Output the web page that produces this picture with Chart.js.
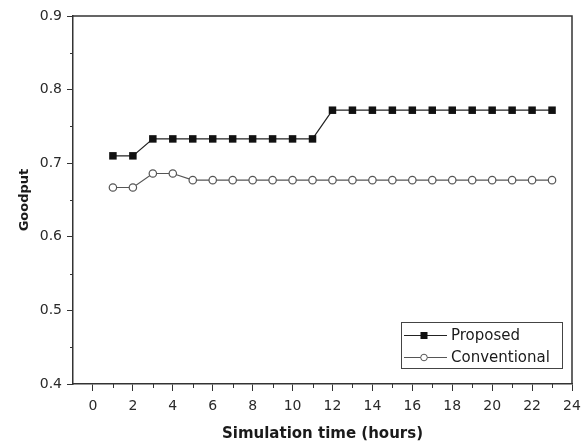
<!DOCTYPE html>
<html>
<head>
<meta charset="utf-8">
<script src="https://cdn.jsdelivr.net/npm/chart.js@4/dist/chart.umd.min.js"></script>
<style>
  html, body { margin: 0; padding: 0; background: #fff; }
</style>
</head>
<body>
<canvas id="chart" width="584" height="447"></canvas>
<script>
// data
const hours = [1, 2, 3, 4, 5, 6, 7, 8, 9, 10, 11, 12, 13, 14, 15, 16, 17, 18, 19, 20, 21, 22, 23];
const proposed = [0.710, 0.710, 0.733, 0.733, 0.733, 0.733, 0.733, 0.733, 0.733, 0.733, 0.733,
                  0.772, 0.772, 0.772, 0.772, 0.772, 0.772, 0.772, 0.772, 0.772, 0.772, 0.772, 0.772];
const conventional = [0.667, 0.667, 0.686, 0.686, 0.677, 0.677, 0.677, 0.677, 0.677, 0.677, 0.677,
                      0.677, 0.677, 0.677, 0.677, 0.677, 0.677, 0.677, 0.677, 0.677, 0.677, 0.677, 0.677];
const xTicks = [0, 2, 4, 6, 8, 10, 12, 14, 16, 18, 20, 22, 24];
const xMinorTicks = [1, 3, 5, 7, 9, 11, 13, 15, 17, 19, 21, 23];
const yTicks = [0.4, 0.5, 0.6, 0.7, 0.8, 0.9];
const yMinorTicks = [0.45, 0.55, 0.65, 0.75, 0.85];

const axisColor = '#333';
const textColor = '#2a2a2a';

// frame on top / right + minor ticks
const framePlugin = {
    id: 'frame',
    afterDraw(chart) {
        const { ctx, chartArea: a, scales } = chart;
        ctx.save();
        ctx.strokeStyle = axisColor;
        ctx.lineWidth = 1.5;
        ctx.beginPath();
        ctx.moveTo(a.left, a.top);
        ctx.lineTo(a.right, a.top);
        ctx.lineTo(a.right, a.bottom);
        ctx.stroke();

        ctx.lineWidth = 1;
        ctx.beginPath();
        xMinorTicks.forEach(v => {
            const px = Math.round(scales.x.getPixelForValue(v)) + 0.5;
            ctx.moveTo(px, a.bottom);
            ctx.lineTo(px, a.bottom + 4);
        });
        yMinorTicks.forEach(v => {
            const py = Math.round(scales.y.getPixelForValue(v)) + 0.5;
            ctx.moveTo(a.left, py);
            ctx.lineTo(a.left - 3, py);
        });
        ctx.stroke();
        ctx.restore();
    }
};

// legend box inside the plot, bottom right
const legendPlugin = {
    id: 'boxLegend',
    afterDraw(chart) {
        const { ctx, chartArea: a } = chart;
        const w = 161, h = 46;
        const left = a.right - 10 - w, top = a.bottom - 16 - h;
        ctx.save();
        ctx.fillStyle = '#fff';
        ctx.fillRect(left, top, w, h);
        ctx.strokeStyle = '#444';
        ctx.lineWidth = 1;
        ctx.strokeRect(left + 0.5, top + 0.5, w, h);

        chart.data.datasets.forEach((ds, i) => {
            const y = top + 13 + i * 22;
            ctx.strokeStyle = ds.borderColor;
            ctx.lineWidth = 1;
            ctx.beginPath();
            ctx.moveTo(left + 3, y + 0.5);
            ctx.lineTo(left + 46, y + 0.5);
            ctx.stroke();
            const mx = left + 23;
            if (ds.pointStyle === 'rect') {
                ctx.fillStyle = ds.pointBackgroundColor;
                ctx.fillRect(mx - 3.5, y - 3, 7, 7);
            } else {
                ctx.fillStyle = '#fff';
                ctx.strokeStyle = ds.pointBorderColor;
                ctx.beginPath();
                ctx.arc(mx, y + 0.5, 3.3, 0, Math.PI * 2);
                ctx.fill();
                ctx.stroke();
            }
            ctx.fillStyle = '#1a1a1a';
            ctx.font = '15px "DejaVu Sans"';
            ctx.textBaseline = 'middle';
            ctx.fillText(ds.label, left + 50, y + 1);
        });
        ctx.restore();
    }
};

new Chart(document.getElementById('chart'), {
    type: 'line',
    data: {
        labels: hours,
        datasets: [
            {
                label: 'Proposed',
                data: hours.map((h, i) => ({ x: h, y: proposed[i] })),
                borderColor: '#222',
                borderWidth: 1.2,
                pointStyle: 'rect',
                pointRadius: 5.3,
                pointBackgroundColor: '#111',
                pointBorderColor: '#111',
                pointBorderWidth: 0,
                tension: 0
            },
            {
                label: 'Conventional',
                data: hours.map((h, i) => ({ x: h, y: conventional[i] })),
                borderColor: '#555',
                borderWidth: 1.2,
                pointStyle: 'circle',
                pointRadius: 3.7,
                pointBackgroundColor: '#fff',
                pointBorderColor: '#555',
                pointBorderWidth: 1.2,
                tension: 0
            }
        ]
    },
    options: {
        responsive: false,
        animation: false,
        devicePixelRatio: 1,
        layout: { padding: { left: 0, right: 12, top: 16, bottom: 0 } },
        plugins: {
            legend: { display: false },
            tooltip: { enabled: false }
        },
        scales: {
            x: {
                type: 'linear',
                min: -1,
                max: 24,
                afterBuildTicks: scale => { scale.ticks = xTicks.map(v => ({ value: v })); },
                afterFit: scale => {
                    scale.height = 63;
                    scale.paddingLeft = 0;
                    scale.paddingRight = 0;
                },
                grid: { drawOnChartArea: false, tickLength: 7, color: axisColor, lineWidth: 1 },
                border: { color: axisColor, width: 1.5 },
                ticks: {
                    padding: 7,
                    color: textColor,
                    font: { family: '"DejaVu Sans"', size: 14 },
                    maxRotation: 0,
                    autoSkip: false
                },
                title: {
                    display: true,
                    text: 'Simulation time (hours)',
                    color: '#1a1a1a',
                    font: { family: '"DejaVu Sans"', size: 15, weight: 'bold' },
                    padding: { top: 0, bottom: 4 }
                }
            },
            y: {
                min: 0.4,
                max: 0.9,
                afterBuildTicks: scale => { scale.ticks = yTicks.map(v => ({ value: v })); },
                afterFit: scale => {
                    scale.width = 73;
                    scale.paddingTop = 0;
                    scale.paddingBottom = 0;
                },
                grid: { drawOnChartArea: false, tickLength: 6, color: axisColor, lineWidth: 1 },
                border: { color: axisColor, width: 1.5 },
                ticks: {
                    padding: 5,
                    color: textColor,
                    font: { family: '"DejaVu Sans"', size: 14 },
                    callback: v => v.toFixed(1)
                },
                title: {
                    display: true,
                    text: 'Goodput',
                    color: '#1a1a1a',
                    font: { family: '"DejaVu Sans"', size: 13, weight: 'bold' },
                    padding: { top: 17, bottom: 0 }
                }
            }
        }
    },
    plugins: [framePlugin, legendPlugin]
});
</script>
</body>
</html>
